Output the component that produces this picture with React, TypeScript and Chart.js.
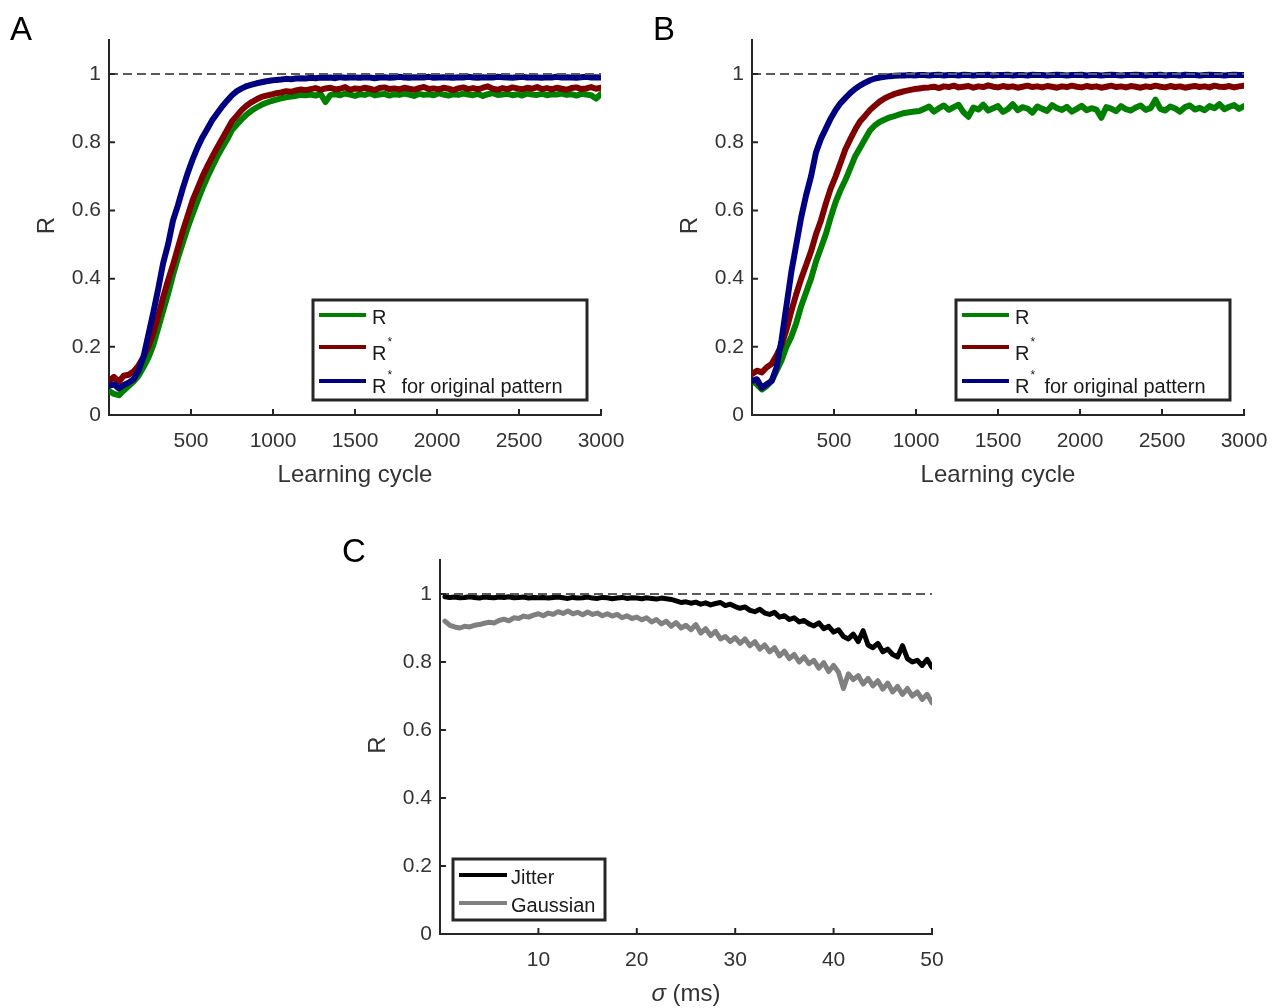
import React, { useEffect, useRef } from "react";
import { Chart, registerables } from "chart.js";

Chart.register(...registerables);

const FONT = '"Liberation Sans", Arial, Helvetica, sans-serif';
const AXIS_COLOR = "#262626";
const TEXT_COLOR = "#333333";

// ---------- data ----------
const cyclesAB = [
  0, 30, 60, 90, 120, 150, 180, 210, 240, 270, 300, 330, 360, 390, 420, 450, 480, 510, 540, 570,
  600, 630, 660, 690, 720, 750, 780, 810, 840, 870, 900, 930, 960, 990, 1020, 1050, 1080, 1110,
  1140, 1170, 1200, 1230, 1260, 1290, 1320, 1350, 1380, 1410, 1440, 1470, 1500, 1530, 1560, 1590,
  1620, 1650, 1680, 1710, 1740, 1770, 1800, 1830, 1860, 1890, 1920, 1950, 1980, 2010, 2040, 2070,
  2100, 2130, 2160, 2190, 2220, 2250, 2280, 2310, 2340, 2370, 2400, 2430, 2460, 2490, 2520, 2550,
  2580, 2610, 2640, 2670, 2700, 2730, 2760, 2790, 2820, 2850, 2880, 2910, 2940, 2970, 3000,
];

const aBlue = [
  0.085, 0.09, 0.078, 0.088, 0.095, 0.105, 0.13, 0.17, 0.235, 0.3, 0.37, 0.445, 0.5, 0.57, 0.615,
  0.665, 0.71, 0.75, 0.785, 0.815, 0.84, 0.865, 0.885, 0.905, 0.922, 0.938, 0.95, 0.958, 0.965,
  0.969, 0.973, 0.976, 0.979, 0.981, 0.983, 0.984, 0.986, 0.985, 0.987, 0.988, 0.987,
  0.989, 0.988, 0.99, 0.989, 0.99, 0.988, 0.991, 0.989, 0.99, 0.99,
  0.989, 0.991, 0.99, 0.988, 0.99, 0.991, 0.989, 0.99, 0.992, 0.99,
  0.989, 0.991, 0.99, 0.99, 0.992, 0.989, 0.99, 0.991, 0.99, 0.989,
  0.991, 0.99, 0.992, 0.99, 0.989, 0.991, 0.99, 0.99, 0.992, 0.991,
  0.99, 0.989, 0.991, 0.992, 0.99, 0.991, 0.99, 0.989, 0.991, 0.99,
  0.992, 0.99, 0.991, 0.99, 0.989, 0.991, 0.992, 0.99, 0.991, 0.99,
];
const aRed = [
  0.1, 0.112, 0.098, 0.115, 0.118, 0.128, 0.145, 0.17, 0.2, 0.24, 0.29, 0.345, 0.395, 0.44, 0.49,
  0.54, 0.585, 0.63, 0.665, 0.7, 0.73, 0.758, 0.785, 0.81, 0.836, 0.862, 0.878, 0.895, 0.908,
  0.918, 0.926, 0.933, 0.937, 0.94, 0.944, 0.946, 0.95, 0.948, 0.952, 0.955, 0.953,
  0.956, 0.959, 0.954, 0.958, 0.96, 0.955, 0.957, 0.962, 0.954, 0.958,
  0.956, 0.96, 0.957, 0.953, 0.959, 0.961, 0.956, 0.958, 0.955, 0.96,
  0.957, 0.954, 0.959, 0.962, 0.956, 0.958, 0.955, 0.96, 0.957, 0.953,
  0.958, 0.961, 0.956, 0.959, 0.955, 0.96, 0.964, 0.957, 0.954, 0.959,
  0.956, 0.961, 0.958, 0.955, 0.96, 0.957, 0.962, 0.956, 0.959, 0.955,
  0.96, 0.957, 0.954, 0.959, 0.961, 0.956, 0.958, 0.962, 0.957, 0.96,
];
const aGreen = [
  0.07, 0.062, 0.058, 0.072, 0.085, 0.098, 0.115, 0.14, 0.168, 0.205, 0.255, 0.305, 0.355, 0.41,
  0.46, 0.505, 0.55, 0.59, 0.628, 0.665, 0.698, 0.728, 0.758, 0.784, 0.808, 0.836, 0.852, 0.868,
  0.882, 0.893, 0.902, 0.91, 0.916, 0.921, 0.925, 0.929, 0.932, 0.934, 0.936, 0.939, 0.938,
  0.94, 0.937, 0.942, 0.918, 0.939, 0.941, 0.938, 0.943, 0.94, 0.936,
  0.941, 0.939, 0.944, 0.938, 0.94, 0.942, 0.937, 0.941, 0.939, 0.943,
  0.94, 0.936, 0.942, 0.939, 0.941, 0.938, 0.944, 0.94, 0.937, 0.941,
  0.939, 0.943, 0.94, 0.938, 0.942, 0.936, 0.941, 0.944, 0.939, 0.94,
  0.942, 0.938, 0.941, 0.937, 0.943, 0.94, 0.939, 0.942, 0.938, 0.941,
  0.94, 0.943, 0.939, 0.941, 0.937, 0.942, 0.94, 0.938, 0.928, 0.942,
];

const bBlue = [
  0.1, 0.105, 0.08, 0.09, 0.1, 0.14, 0.22, 0.32, 0.42, 0.5, 0.58, 0.645, 0.7, 0.77, 0.81, 0.84,
  0.87, 0.895, 0.915, 0.93, 0.945, 0.957, 0.967, 0.975, 0.982, 0.987, 0.99, 0.992, 0.994, 0.995,
  0.996,
  0.996, 0.997, 0.996, 0.997, 0.997, 0.996, 0.997, 0.998, 0.996, 0.997,
  0.997, 0.996, 0.998, 0.997, 0.996, 0.997, 0.997, 0.998, 0.996, 0.997,
  0.997, 0.998, 0.996, 0.997, 0.997, 0.996, 0.998, 0.997, 0.997, 0.996,
  0.997, 0.998, 0.997, 0.996, 0.997, 0.997, 0.998, 0.996, 0.997, 0.997,
  0.996, 0.997, 0.998, 0.997, 0.996, 0.997, 0.997, 0.998, 0.997, 0.996,
  0.997, 0.997, 0.998, 0.996, 0.997, 0.997, 0.996, 0.998, 0.997, 0.997,
  0.996, 0.997, 0.998, 0.997, 0.997, 0.996, 0.997, 0.998, 0.997, 0.997,
];
const bRed = [
  0.12, 0.13, 0.125, 0.14, 0.15, 0.175, 0.205, 0.25, 0.305, 0.355, 0.4, 0.44, 0.48, 0.53, 0.57,
  0.62, 0.665, 0.7, 0.74, 0.78, 0.81, 0.838, 0.862, 0.878, 0.895, 0.908, 0.92, 0.929, 0.936,
  0.942, 0.946, 0.95, 0.953, 0.956, 0.958, 0.96,
  0.961, 0.963, 0.959, 0.964, 0.962, 0.966, 0.961, 0.963, 0.965, 0.96,
  0.964, 0.962, 0.967, 0.963, 0.961, 0.965, 0.962, 0.964, 0.96, 0.963,
  0.966, 0.962, 0.964, 0.961, 0.965, 0.963, 0.96, 0.964, 0.962, 0.966,
  0.963, 0.961, 0.965, 0.962, 0.964, 0.96, 0.963, 0.966, 0.962, 0.964,
  0.961, 0.965, 0.963, 0.96, 0.964, 0.962, 0.966, 0.963, 0.961, 0.965,
  0.962, 0.964, 0.96, 0.963, 0.965, 0.962, 0.964, 0.961, 0.966, 0.963,
  0.962, 0.965, 0.961, 0.964, 0.966,
];
const bGreen = [
  0.1, 0.09, 0.075, 0.085, 0.1, 0.13, 0.16, 0.2, 0.23, 0.27, 0.32, 0.36, 0.4, 0.45, 0.49, 0.53,
  0.58, 0.625, 0.66, 0.69, 0.725, 0.76, 0.785, 0.81, 0.835, 0.85, 0.86, 0.867, 0.873, 0.877,
  0.882, 0.886, 0.888, 0.89,
  0.892, 0.898, 0.905, 0.89, 0.9, 0.908, 0.895, 0.903, 0.91, 0.888,
  0.875, 0.902, 0.896, 0.91, 0.893, 0.9, 0.906, 0.889, 0.897, 0.912,
  0.894, 0.903, 0.899, 0.887, 0.905, 0.898, 0.892, 0.909, 0.9, 0.895,
  0.904, 0.89, 0.898, 0.907, 0.894, 0.9, 0.896, 0.872, 0.903, 0.899,
  0.891, 0.906, 0.897, 0.893, 0.902, 0.908, 0.895, 0.9, 0.925, 0.898,
  0.893, 0.905, 0.899, 0.89, 0.903, 0.908, 0.896, 0.901, 0.894, 0.906,
  0.9, 0.912, 0.897, 0.904, 0.909, 0.898, 0.906,
];

const sigmaC = [
  0.5, 1, 1.5, 2, 2.5, 3, 3.5, 4, 4.5, 5, 5.5, 6, 6.5, 7, 7.5, 8, 8.5, 9, 9.5, 10,
  10.5, 11, 11.5, 12, 12.5, 13, 13.5, 14, 14.5, 15, 15.5, 16, 16.5, 17, 17.5, 18, 18.5, 19, 19.5, 20,
  20.5, 21, 21.5, 22, 22.5, 23, 23.5, 24, 24.5, 25, 25.5, 26, 26.5, 27, 27.5, 28, 28.5, 29, 29.5, 30,
  30.5, 31, 31.5, 32, 32.5, 33, 33.5, 34, 34.5, 35, 35.5, 36, 36.5, 37, 37.5, 38, 38.5, 39, 39.5, 40,
  40.5, 41, 41.5, 42, 42.5, 43, 43.5, 44, 44.5, 45, 45.5, 46, 46.5, 47, 47.5, 48, 48.5, 49, 49.5, 50,
];
const jitter = [
  0.992, 0.99, 0.991, 0.989, 0.99, 0.992, 0.99, 0.988, 0.991, 0.99,
  0.989, 0.991, 0.99, 0.992, 0.989, 0.99, 0.991, 0.988, 0.99, 0.989,
  0.99, 0.988, 0.99, 0.991, 0.989, 0.987, 0.99, 0.988, 0.989, 0.991,
  0.988, 0.987, 0.99, 0.989, 0.986, 0.988, 0.99, 0.987, 0.989, 0.988,
  0.986, 0.989, 0.987, 0.985, 0.988, 0.986, 0.984, 0.98, 0.975, 0.977,
  0.973, 0.976, 0.97, 0.974, 0.968, 0.972, 0.975, 0.966, 0.97, 0.963,
  0.958, 0.962, 0.952, 0.948, 0.955, 0.944, 0.94, 0.946, 0.932, 0.936,
  0.925, 0.93, 0.918, 0.922, 0.912, 0.906, 0.915, 0.898, 0.905, 0.888,
  0.895, 0.875, 0.868, 0.882, 0.86, 0.892, 0.85, 0.842, 0.855, 0.83,
  0.838, 0.822, 0.815, 0.848, 0.81, 0.8, 0.805, 0.79, 0.808, 0.785,
];
const gaussian = [
  0.92, 0.908, 0.903, 0.9, 0.905, 0.903, 0.908, 0.91, 0.914, 0.917,
  0.915, 0.922, 0.926, 0.921, 0.93, 0.928, 0.935, 0.932, 0.938, 0.942,
  0.936, 0.944, 0.94, 0.948, 0.943, 0.95, 0.942, 0.946, 0.939, 0.947,
  0.94, 0.944, 0.936, 0.942, 0.935, 0.94, 0.93, 0.936, 0.928, 0.932,
  0.924, 0.93, 0.918, 0.925, 0.912, 0.92, 0.905, 0.916, 0.9, 0.908,
  0.895, 0.91, 0.885, 0.898, 0.878, 0.89, 0.868, 0.875, 0.86, 0.872,
  0.855, 0.868, 0.848, 0.86, 0.838, 0.85, 0.83, 0.842, 0.818, 0.832,
  0.81, 0.822, 0.8, 0.815, 0.795, 0.805, 0.782, 0.798, 0.772, 0.79,
  0.77, 0.722, 0.765, 0.748, 0.76, 0.735, 0.752, 0.73, 0.745, 0.72,
  0.738, 0.712, 0.728, 0.705, 0.722, 0.7, 0.712, 0.69, 0.705, 0.68,
];

const yTicks = [0, 0.2, 0.4, 0.6, 0.8, 1];
const xTicksAB = [500, 1000, 1500, 2000, 2500, 3000];
const xTicksC = [10, 20, 30, 40, 50];

const GREEN = "#008000";
const RED = "#800000";
const BLUE = "#000080";

// ---------- panel configs ----------
type Series = { label: string; sup?: string; rest?: string; x: number[]; y: number[]; color: string; width: number };
type Cfg = {
  left: number; top: number; w: number; h: number;
  yWidth: number; xHeight: number; padTop: number; padRight: number;
  letter: string; letterX: number; letterY: number;
  xMax: number; xTicks: number[];
  xTitle: "cycle" | "sigma"; xTitleY: number; yTitleX: number;
  series: Series[]; // drawing order: first on top
  legendOrder: number[];
  legend: { dl: number; dr: number; dt: number; db: number; lineX0: number; lineX1: number; textX: number; lineDy: number[]; baseDy: number[] };
};

const legendAB = { dl: 204, dr: -14, dt: -115, db: -15, lineX0: 6, lineX1: 53, textX: 59, lineDy: [15, 47, 81], baseDy: [24, 60, 93] };

const panelA: Cfg = {
  left: 0, top: 0, w: 643, h: 500, yWidth: 109, xHeight: 85, padTop: 40, padRight: 42,
  letter: "A", letterX: 10, letterY: 40, xMax: 3000, xTicks: xTicksAB,
  xTitle: "cycle", xTitleY: 482, yTitleX: 47,
  series: [
    { label: "R", sup: "*", rest: "for original pattern", x: cyclesAB, y: aBlue, color: BLUE, width: 6 },
    { label: "R", sup: "*", x: cyclesAB, y: aRed, color: RED, width: 6 },
    { label: "R", x: cyclesAB, y: aGreen, color: GREEN, width: 6 },
  ],
  legendOrder: [2, 1, 0],
  legend: legendAB,
};
const panelB: Cfg = {
  ...panelA,
  left: 643,
  letter: "B",
  series: [
    { label: "R", sup: "*", rest: "for original pattern", x: cyclesAB, y: bBlue, color: BLUE, width: 6 },
    { label: "R", sup: "*", x: cyclesAB, y: bRed, color: RED, width: 6 },
    { label: "R", x: cyclesAB, y: bGreen, color: GREEN, width: 6 },
  ],
};
const panelC: Cfg = {
  left: 330, top: 520, w: 643, h: 488, yWidth: 110, xHeight: 74, padTop: 40, padRight: 41,
  letter: "C", letterX: 12, letterY: 42, xMax: 50, xTicks: xTicksC,
  xTitle: "sigma", xTitleY: 481, yTitleX: 48,
  series: [
    { label: "Jitter", x: sigmaC, y: jitter, color: "#000000", width: 5 },
    { label: "Gaussian", x: sigmaC, y: gaussian, color: "#808080", width: 5 },
  ],
  legendOrder: [0, 1],
  legend: { dl: 13, dr: 165 - 492, dt: -75, db: -14, lineX0: 6, lineX1: 54, textX: 58, lineDy: [16, 44], baseDy: [25, 53] },
};

function makeDecor(cfg: Cfg) {
  return {
    id: "decor",
    afterDatasetsDraw(chart: any) {
      const { ctx, chartArea: a, scales } = chart;
      const y1 = Math.round(scales.y.getPixelForValue(1));
      ctx.save();
      ctx.strokeStyle = "#5a5a5a";
      ctx.lineWidth = 2;
      ctx.setLineDash([9, 5]);
      ctx.beginPath();
      ctx.moveTo(a.left, y1);
      ctx.lineTo(a.right, y1);
      ctx.stroke();
      ctx.restore();
    },
    afterDraw(chart: any) {
      const { ctx, chartArea: a, scales } = chart;
      ctx.save();
      // inward ticks
      ctx.strokeStyle = AXIS_COLOR;
      ctx.lineWidth = 2;
      ctx.beginPath();
      for (const v of yTicks) {
        const py = scales.y.getPixelForValue(v);
        ctx.moveTo(a.left, py);
        ctx.lineTo(a.left + 6, py);
      }
      for (const v of cfg.xTicks) {
        const px = scales.x.getPixelForValue(v);
        ctx.moveTo(px, a.bottom);
        ctx.lineTo(px, a.bottom - 6);
      }
      ctx.stroke();

      // legend
      const L = cfg.legend;
      const bx0 = a.left + L.dl;
      const bx1 = a.right + L.dr;
      const by0 = a.bottom + L.dt;
      const by1 = a.bottom + L.db;
      ctx.fillStyle = "#ffffff";
      ctx.fillRect(bx0, by0, bx1 - bx0, by1 - by0);
      ctx.strokeStyle = AXIS_COLOR;
      ctx.lineWidth = 3;
      ctx.strokeRect(bx0, by0, bx1 - bx0, by1 - by0);
      cfg.legendOrder.forEach((si, row) => {
        const s = cfg.series[si];
        const ly = by0 + L.lineDy[row];
        ctx.strokeStyle = s.color;
        ctx.lineWidth = 4;
        ctx.beginPath();
        ctx.moveTo(bx0 + L.lineX0, ly);
        ctx.lineTo(bx0 + L.lineX1, ly);
        ctx.stroke();
        const base = by0 + L.baseDy[row];
        ctx.fillStyle = "#1a1a1a";
        ctx.textBaseline = "alphabetic";
        ctx.textAlign = "left";
        ctx.font = `20px ${FONT}`;
        let tx = bx0 + L.textX;
        ctx.fillText(s.label, tx, base);
        tx += ctx.measureText(s.label).width;
        if (s.sup) {
          ctx.font = `12px ${FONT}`;
          ctx.fillText(s.sup, tx + 1, base - 14);
          tx += 15;
        }
        if (s.rest) {
          ctx.font = `20px ${FONT}`;
          ctx.fillText(s.rest, tx, base);
        }
      });

      // axis titles
      ctx.fillStyle = TEXT_COLOR;
      ctx.font = `24px ${FONT}`;
      ctx.textAlign = "center";
      ctx.textBaseline = "middle";
      ctx.save();
      ctx.translate(cfg.yTitleX, (a.top + a.bottom) / 2 - 2);
      ctx.rotate(-Math.PI / 2);
      ctx.fillText("R", 0, 0);
      ctx.restore();
      ctx.textBaseline = "alphabetic";
      const cx = (a.left + a.right) / 2;
      if (cfg.xTitle === "cycle") {
        ctx.textAlign = "center";
        ctx.fillText("Learning cycle", cx, cfg.xTitleY);
      } else {
        ctx.textAlign = "left";
        const f1 = `italic 24px ${FONT}`;
        const f2 = `24px ${FONT}`;
        ctx.font = f1;
        const w1 = ctx.measureText("σ").width;
        ctx.font = f2;
        const w2 = ctx.measureText(" (ms)").width;
        const x0 = cx - (w1 + w2) / 2;
        ctx.font = f1;
        ctx.fillText("σ", x0, cfg.xTitleY);
        ctx.font = f2;
        ctx.fillText(" (ms)", x0 + w1, cfg.xTitleY);
      }

      // panel letter
      ctx.fillStyle = "#000000";
      ctx.font = `33px ${FONT}`;
      ctx.textAlign = "left";
      ctx.fillText(cfg.letter, cfg.letterX, cfg.letterY);
      ctx.restore();
    },
  };
}

function Panel({ cfg }: { cfg: Cfg }) {
  const ref = useRef<HTMLCanvasElement>(null);
  useEffect(() => {
    if (!ref.current) return;
    const tickFont = { family: FONT, size: 21 };
    const chart = new Chart(ref.current, {
      type: "line",
      data: {
        datasets: cfg.series.map((s) => ({
          label: s.label,
          data: s.x.map((x, i) => ({ x, y: s.y[i] })),
          borderColor: s.color,
          backgroundColor: s.color,
          borderWidth: s.width,
          pointRadius: 0,
          fill: false,
          tension: 0,
          borderJoinStyle: "round",
          borderCapStyle: "round",
        })),
      },
      options: {
        animation: false,
        responsive: false,
        events: [],
        layout: { padding: { top: cfg.padTop, right: cfg.padRight, left: 0, bottom: 0 } },
        plugins: { legend: { display: false }, tooltip: { enabled: false }, title: { display: false } },
        scales: {
          x: {
            type: "linear",
            min: 0,
            max: cfg.xMax,
            grid: { display: false },
            border: { display: true, color: AXIS_COLOR, width: 2 },
            ticks: {
              autoSkip: false,
              maxRotation: 0,
              color: TEXT_COLOR,
              font: tickFont,
              padding: 6,
              callback: (v: any) => String(v),
            },
            afterBuildTicks: (s: any) => {
              s.ticks = cfg.xTicks.map((v) => ({ value: v }));
            },
            afterFit: (s: any) => {
              s.height = cfg.xHeight;
            },
          },
          y: {
            type: "linear",
            min: 0,
            max: 1.1,
            grid: { display: false },
            border: { display: true, color: AXIS_COLOR, width: 2 },
            ticks: {
              autoSkip: false,
              color: TEXT_COLOR,
              font: tickFont,
              padding: 0,
              callback: (v: any) => String(v),
            },
            afterBuildTicks: (s: any) => {
              s.ticks = yTicks.map((v) => ({ value: v }));
            },
            afterFit: (s: any) => {
              s.width = cfg.yWidth;
            },
          },
        },
      },
      plugins: [makeDecor(cfg)],
    } as any);
    return () => chart.destroy();
  }, []);
  return (
    <canvas
      ref={ref}
      width={cfg.w}
      height={cfg.h}
      style={{ position: "absolute", left: cfg.left, top: cfg.top, width: cfg.w, height: cfg.h }}
    />
  );
}

export default function App() {
  return (
    <div style={{ position: "absolute", left: 0, top: 0, width: 1286, height: 1008, background: "#ffffff", overflow: "hidden" }}>
      <Panel cfg={panelA} />
      <Panel cfg={panelB} />
      <Panel cfg={panelC} />
    </div>
  );
}
